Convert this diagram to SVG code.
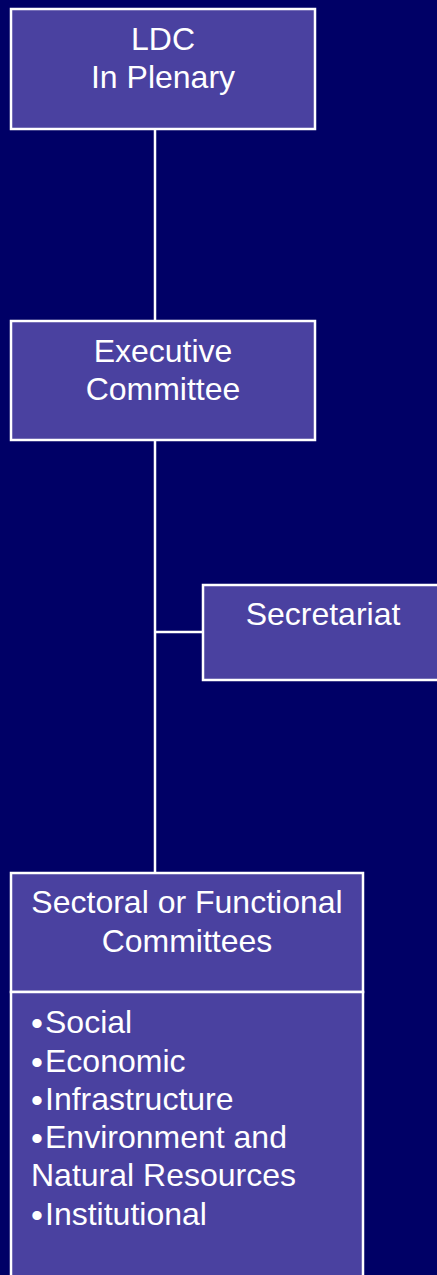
<svg xmlns="http://www.w3.org/2000/svg" width="437" height="1275" viewBox="0 0 437 1275">
<style>
.box{fill:#4A41A0;stroke:#FFFFFF;stroke-width:2.5}
.t{font-family:"Liberation Sans",Arial,sans-serif;font-size:32px;fill:#FFFFFF}
.c{text-anchor:middle}
.b{font-size:34px}
.conn{stroke:#FFFFFF;stroke-width:2.5;fill:none}
</style>
<rect width="437" height="1275" fill="#000066"/>
<g id="connectors">
<line class="conn" x1="155" y1="129" x2="155" y2="321"/>
<line class="conn" x1="155" y1="440" x2="155" y2="873"/>
<line class="conn" x1="155" y1="632" x2="203" y2="632"/>
</g>
<g id="ldc">
<rect class="box" x="11" y="9" width="304" height="120"/>
<text class="t c" x="163" y="50">LDC</text>
<text class="t c" x="163" y="88">In Plenary</text>
</g>
<g id="executive">
<rect class="box" x="11" y="321" width="304" height="119"/>
<text class="t c" x="163" y="362">Executive</text>
<text class="t c" x="163" y="400">Committee</text>
</g>
<g id="secretariat">
<rect class="box" x="203" y="585" width="240" height="95"/>
<text class="t c" x="323" y="625">Secretariat</text>
</g>
<g id="sectoral">
<rect class="box" x="11" y="873" width="352" height="119"/>
<text class="t c" x="187" y="913">Sectoral or Functional</text>
<text class="t c" x="187" y="952">Committees</text>
<rect class="box" x="11" y="992" width="352" height="290"/>
<text class="t" x="31" y="1033"><tspan class="b" dy="2">•</tspan><tspan x="45" dy="-2">Social</tspan></text>
<text class="t" x="31" y="1072"><tspan class="b" dy="2">•</tspan><tspan x="45" dy="-2">Economic</tspan></text>
<text class="t" x="31" y="1110"><tspan class="b" dy="2">•</tspan><tspan x="45" dy="-2">Infrastructure</tspan></text>
<text class="t" x="31" y="1148"><tspan class="b" dy="2">•</tspan><tspan x="45" dy="-2">Environment and</tspan></text>
<text class="t" x="31" y="1186">Natural Resources</text>
<text class="t" x="31" y="1225"><tspan class="b" dy="2">•</tspan><tspan x="45" dy="-2">Institutional</tspan></text>
</g>
</svg>
